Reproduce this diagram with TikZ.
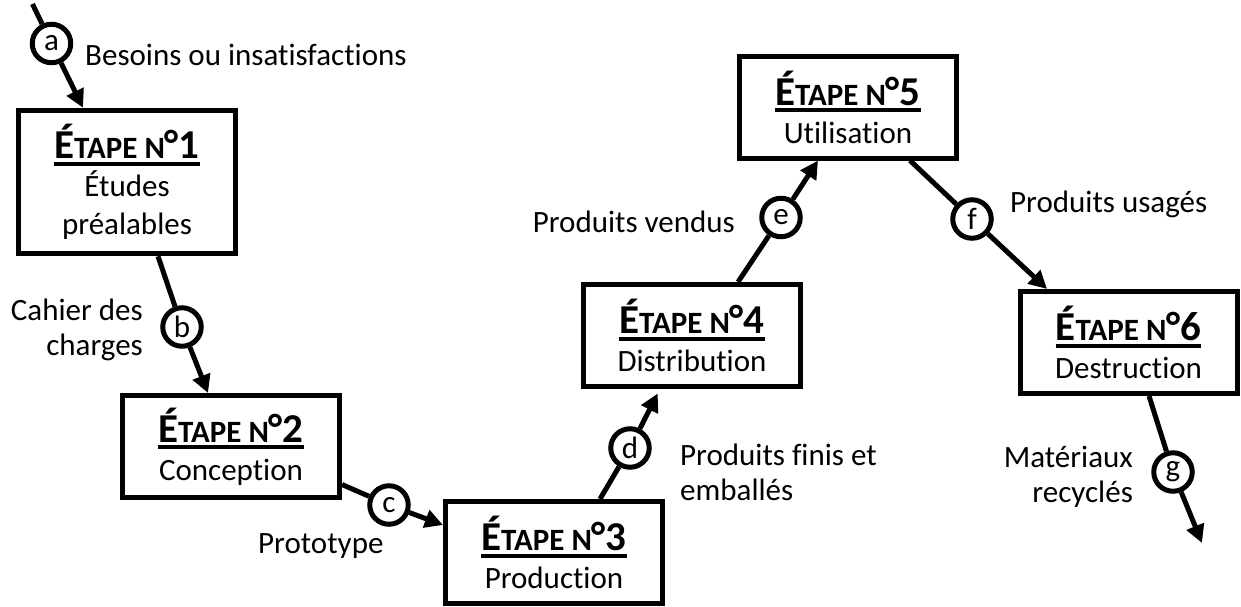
\documentclass[tikz,border=0pt]{standalone}
\usepackage{fontspec}
\setmainfont{Carlito}[Ligatures=NoCommon]
\usetikzlibrary{arrows.meta}
\newcommand\myul[1]{\setbox0=\hbox{#1}\rlap{\vrule width\wd0 height -3pt depth 7pt}\box0}
\newcommand\etape[1]{{\fontsize{41}{38}\selectfont\bfseries\myul{É{\fontsize{31}{38}\selectfont TAPE N}°#1}}}
\begin{document}
\begin{tikzpicture}[x=1pt,y=-1pt,
  stepbox/.style={draw, line width=5pt, minimum width=217pt, minimum height=102pt, inner sep=0pt, align=center, font=\fontsize{31}{38}\selectfont},
  letter/.style={draw, circle, line width=5pt, minimum size=38.5pt, inner sep=0pt, fill=white, font=\fontsize{31}{38}\selectfont},
  lbl/.style={inner sep=0pt, font=\fontsize{31}{35}\selectfont},
  conn/.style={line width=5pt},
  arr/.style={line width=5pt, -{Triangle[length=18pt,width=18pt]}}]
\useasboundingbox (0,0) rectangle (1241,606);
\fill[white] (0,0) rectangle (1241,606);

\node[stepbox, minimum height=143.5pt] (s1) at (127,182) {\etape{1}\\Études\\préalables};
\node[stepbox] (s2) at (231,446.5) {\etape{2}\\Conception};
\node[stepbox] (s3) at (554,552.5) {\etape{3}\\Production};
\node[stepbox] (s4) at (692,335.5) {\etape{4}\\Distribution};
\node[stepbox] (s5) at (848,107) {\etape{5}\\Utilisation};
\node[stepbox] (s6) at (1128.5,342.5) {\etape{6}\\Destruction};

\node[letter] (a) at (51.5,43.5) {a};
\node[letter] (b) at (182,327) {b};
\node[letter] (c) at (389,505) {c};
\node[letter] (d) at (630,448) {d};
\node[letter] (e) at (781,217.5) {e};
\node[letter] (f) at (972,219) {f};
\node[letter] (g) at (1173,472) {g};

\coordinate (a0) at (32.5,4);
\coordinate (g1) at (1202,543);

\draw[conn] (a0) -- (a);
\draw[arr] (a) -- ([xshift=-44pt]s1.north);
\draw[conn] ([xshift=31pt]s1.south) -- (b);
\draw[arr] (b) -- ([xshift=-23pt]s2.north);
\draw[conn] ([yshift=-38pt]s2.east) -- (c);
\draw[arr] (c) -- ([yshift=27.5pt]s3.west);
\draw[conn] ([xshift=46pt]s3.north) -- (d);
\draw[arr, shorten >=5pt] (d) -- ([xshift=-32pt]s4.south);
\draw[conn] ([xshift=46pt]s4.north) -- (e);
\draw[arr] (e) -- ([xshift=-30pt]s5.south);
\draw[conn] ([xshift=62pt]s5.south) -- (f);
\draw[arr] (f) -- ([xshift=-81.5pt]s6.north);
\draw[conn] ([xshift=20.5pt]s6.south) -- (g);
\draw[arr] (g) -- (g1);

\node[lbl, anchor=base west] (la) at (85,65) {Besoins ou insatisfactions};
\node[lbl, anchor=north east, align=right] (lb) at (143,296) {\strut Cahier des\\charges};
\node[lbl, anchor=base west] (lc) at (258,553) {Prototype};
\node[lbl, anchor=north west, align=left] (ld) at (680,440.5) {\strut Produits finis et\\emballés};
\node[lbl, anchor=base east] (le) at (735,232) {Produits vendus};
\node[lbl, anchor=base west] (lf) at (1010,212) {Produits usagés};
\node[lbl, anchor=north east, align=right] (lg) at (1133,442.5) {\strut Matériaux\\recyclés};
\end{tikzpicture}
\end{document}
